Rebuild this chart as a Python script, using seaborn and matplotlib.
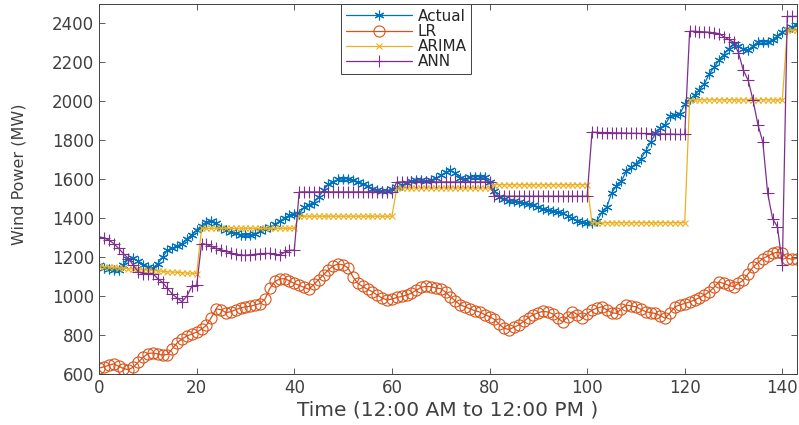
import matplotlib
matplotlib.use("Agg")
import matplotlib.pyplot as plt
import numpy as np
import seaborn as sns

# time index: one sample every 5 minutes, 12:00 AM -> 12:00 PM
TIME = np.arange(144)

ACTUAL = [
    1160, 1145, 1138, 1133, 1135, 1160, 1190, 1195, 1180, 1162, 1152, 1145,
    1165, 1200, 1235, 1245, 1258, 1270, 1295, 1315, 1340, 1362, 1380, 1388,
    1375, 1352, 1340, 1330, 1322, 1316, 1313, 1313, 1320, 1332, 1345, 1355,
    1368, 1385, 1400, 1415, 1420, 1424, 1455, 1470, 1480, 1510, 1545, 1575,
    1588, 1600, 1602, 1603, 1595, 1585, 1578, 1565, 1552, 1544, 1540, 1542,
    1548, 1560, 1568, 1580, 1590, 1595, 1596, 1593, 1595, 1605, 1620, 1635,
    1646, 1630, 1608, 1600, 1610, 1614, 1612, 1610, 1585, 1540, 1509, 1500,
    1490, 1486, 1482, 1476, 1472, 1467, 1455, 1445, 1440, 1437, 1433, 1425,
    1412, 1400, 1388, 1378, 1373, 1376, 1385, 1430, 1455, 1530, 1565, 1590,
    1640, 1662, 1680, 1705, 1745, 1790, 1835, 1865, 1880, 1925, 1932, 1936,
    1985, 2010, 2031, 2060, 2090, 2140, 2175, 2210, 2240, 2270, 2296, 2285,
    2268, 2262, 2285, 2305, 2306, 2305, 2315, 2335, 2355, 2373, 2383, 2392,
]

LR = [
    630, 637, 645, 652, 640, 628, 622, 635, 660, 685, 705, 708,
    703, 697, 700, 730, 760, 780, 795, 805, 815, 830, 850, 890,
    935, 930, 915, 920, 930, 940, 945, 948, 955, 962, 985, 1040,
    1075, 1088, 1090, 1078, 1065, 1055, 1045, 1035, 1060, 1085, 1110, 1135,
    1155, 1165, 1160, 1145, 1100, 1065, 1050, 1035, 1022, 1005, 990, 980,
    985, 993, 998, 1005, 1015, 1030, 1045, 1050, 1048, 1042, 1038, 1020,
    996, 975, 955, 945, 935, 925, 918, 905, 895, 880, 855, 835,
    828, 840, 852, 870, 890, 905, 915, 922, 918, 908, 885, 868,
    895, 920, 905, 886, 910, 928, 938, 945, 930, 915, 911, 935,
    954, 950, 945, 932, 920, 915, 911, 900, 886, 915, 945, 955,
    962, 970, 980, 992, 1005, 1022, 1045, 1073, 1065, 1055, 1048, 1065,
    1082, 1115, 1150, 1172, 1193, 1205, 1219, 1225, 1220, 1193, 1190, 1193,
]

ARIMA = [
    1155, 1152, 1150, 1147, 1145, 1143, 1141, 1139, 1137, 1135, 1133, 1131,
    1129, 1127, 1125, 1124, 1122, 1120, 1118, 1117, 1115, 1348, 1348, 1348,
    1348, 1348, 1348, 1348, 1348, 1348, 1348, 1348, 1348, 1348, 1348, 1348,
    1348, 1348, 1348, 1348, 1348, 1410, 1410, 1410, 1410, 1410, 1410, 1410,
    1410, 1410, 1410, 1410, 1410, 1410, 1410, 1410, 1410, 1410, 1410, 1410,
    1410, 1555, 1555, 1555, 1555, 1555, 1555, 1555, 1555, 1555, 1555, 1555,
    1555, 1555, 1555, 1555, 1555, 1555, 1555, 1555, 1555, 1572, 1572, 1572,
    1572, 1572, 1572, 1572, 1572, 1572, 1572, 1572, 1572, 1572, 1572, 1572,
    1572, 1572, 1572, 1572, 1572, 1377, 1377, 1377, 1377, 1377, 1377, 1377,
    1377, 1377, 1377, 1377, 1377, 1377, 1377, 1377, 1377, 1377, 1377, 1377,
    1377, 2008, 2008, 2008, 2008, 2008, 2008, 2008, 2008, 2008, 2008, 2008,
    2008, 2008, 2008, 2008, 2008, 2008, 2008, 2008, 2008, 2365, 2365, 2365,
]

ANN = [
    1305, 1298, 1288, 1270, 1245, 1218, 1193, 1159, 1125, 1116, 1116, 1116,
    1090, 1070, 1040, 1010, 990, 971, 1000, 1050, 1056, 1270, 1265, 1255,
    1245, 1238, 1230, 1222, 1215, 1210, 1210, 1212, 1215, 1218, 1219, 1219,
    1215, 1210, 1225, 1235, 1236, 1535, 1535, 1535, 1535, 1535, 1535, 1535,
    1535, 1535, 1535, 1535, 1535, 1535, 1535, 1535, 1535, 1535, 1535, 1535,
    1535, 1586, 1586, 1586, 1586, 1586, 1586, 1586, 1586, 1586, 1586, 1586,
    1586, 1586, 1586, 1586, 1586, 1586, 1586, 1586, 1586, 1513, 1513, 1513,
    1513, 1513, 1513, 1513, 1513, 1513, 1513, 1513, 1513, 1513, 1513, 1513,
    1513, 1513, 1513, 1513, 1513, 1842, 1841, 1840, 1840, 1839, 1838, 1838,
    1837, 1836, 1836, 1835, 1835, 1834, 1833, 1833, 1832, 1832, 1831, 1830,
    1830, 2360, 2360, 2358, 2357, 2355, 2352, 2348, 2332, 2318, 2304, 2250,
    2160, 2108, 2005, 1880, 1790, 1527, 1398, 1355, 1159, 2436, 2436, 2436,
]

# name, values, colour, marker, marker size
SERIES = [
    ("Actual", ACTUAL, "#0072BD", (6, 2, 0), 7),
    ("LR",     LR,     "#D95319", "o",       8),
    ("ARIMA",  ARIMA,  "#EDB120", "x",       5),
    ("ANN",    ANN,    "#7E2F8E", "+",       8),
]
AX_COLOR = "#404040"

sns.set_style("ticks")
plt.rcParams["font.family"] = ["DejaVu Sans"]

fig = plt.figure(figsize=(7.99, 4.25), dpi=100)
ax = fig.add_axes([0.124, 0.12, 0.8735, 0.8706])

for name, vals, color, marker, ms in SERIES:
    sns.lineplot(x=TIME, y=vals, ax=ax, color=color, linewidth=0.9,
                 marker=marker, markersize=ms, markeredgecolor=color,
                 markerfacecolor="none", markeredgewidth=0.8, label=name)

ax.set_xlim(0, 143)
ax.set_ylim(600, 2500)
ax.set_xticks(range(0, 141, 20))
ax.set_yticks(range(600, 2401, 200))
ax.tick_params(direction="in", top=True, right=True, length=4, width=0.6,
               color=AX_COLOR, labelcolor=AX_COLOR, labelsize=12)
for sp in ax.spines.values():
    sp.set_color(AX_COLOR)
    sp.set_linewidth(0.7)

ax.set_xlabel("Time (12:00 AM to 12:00 PM )", fontsize=14.5, color=AX_COLOR)
ax.set_ylabel("Wind Power (MW)", fontsize=11.5, color=AX_COLOR)
ax.xaxis.set_label_coords(0.5, -0.072)
ax.yaxis.set_label_coords(-0.104, 0.54)

leg = ax.legend(loc="upper left", bbox_to_anchor=(0.347, 1.0), borderaxespad=0,
                handlelength=4.3, numpoints=1, fontsize=11, fancybox=False,
                framealpha=1, edgecolor=AX_COLOR, labelspacing=0.02,
                handletextpad=0.4, borderpad=0.3)
leg.get_frame().set_linewidth(0.7)

fig.savefig("out.png", dpi=100)
